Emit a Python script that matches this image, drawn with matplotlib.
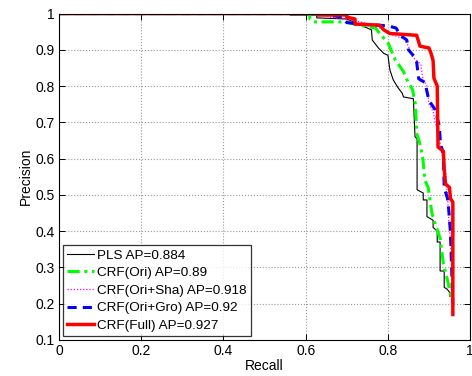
import matplotlib
matplotlib.use("Agg")
import matplotlib.pyplot as plt

plt.rcParams['font.family'] = ['Liberation Sans', 'DejaVu Sans']

pls_r = [0, 0.562, 0.562, 0.627, 0.627, 0.70, 0.72, 0.76, 0.762, 0.777, 0.79, 0.80, 0.805, 0.813, 0.825, 0.835, 0.838, 0.862, 0.866, 0.871, 0.871, 0.886, 0.886, 0.895, 0.895, 0.91, 0.91, 0.92, 0.92, 0.927, 0.927, 0.937, 0.937, 0.944, 0.951, 0.951]
pls_p = [1, 1, 0.996, 0.996, 0.988, 0.985, 0.975, 0.955, 0.927, 0.905, 0.89, 0.885, 0.844, 0.817, 0.795, 0.78, 0.77, 0.765, 0.66, 0.655, 0.514, 0.505, 0.486, 0.486, 0.44, 0.43, 0.41, 0.40, 0.37, 0.37, 0.29, 0.29, 0.245, 0.24, 0.23, 0.22]

ori_r = [0, 0.61, 0.61, 0.62, 0.70, 0.72, 0.77, 0.78, 0.80, 0.818, 0.838, 0.845, 0.86, 0.865, 0.867, 0.87, 0.878, 0.885, 0.89, 0.898, 0.907, 0.915, 0.927, 0.935, 0.946, 0.953]
ori_p = [1, 1, 0.985, 0.977, 0.977, 0.97, 0.96, 0.945, 0.92, 0.872, 0.84, 0.82, 0.79, 0.76, 0.75, 0.67, 0.64, 0.60, 0.54, 0.52, 0.45, 0.42, 0.38, 0.31, 0.26, 0.22]

sha_r = [0, 0.64, 0.66, 0.72, 0.76, 0.79, 0.80, 0.84, 0.85, 0.86, 0.88, 0.885, 0.895, 0.90, 0.91, 0.915, 0.925, 0.93, 0.94, 0.945, 0.948, 0.952, 0.955, 0.958]
sha_p = [1, 1, 0.99, 0.98, 0.97, 0.955, 0.945, 0.93, 0.91, 0.88, 0.86, 0.82, 0.80, 0.75, 0.73, 0.70, 0.66, 0.62, 0.57, 0.50, 0.43, 0.38, 0.30, 0.20]

gro_r = [0, 0.65, 0.65, 0.69, 0.70, 0.74, 0.80, 0.82, 0.83, 0.846, 0.85, 0.865, 0.87, 0.875, 0.89, 0.90, 0.915, 0.925, 0.928, 0.935, 0.937, 0.945, 0.948, 0.952, 0.955, 0.958]
gro_p = [1, 1, 0.997, 0.99, 0.975, 0.97, 0.966, 0.96, 0.94, 0.927, 0.90, 0.88, 0.866, 0.82, 0.81, 0.76, 0.735, 0.69, 0.64, 0.615, 0.52, 0.49, 0.46, 0.40, 0.30, 0.20]

full_r = [0, 0.63, 0.63, 0.70, 0.70, 0.72, 0.72, 0.78, 0.79, 0.805, 0.87, 0.878, 0.90, 0.905, 0.91, 0.912, 0.92, 0.922, 0.935, 0.937, 0.94, 0.95, 0.952, 0.958, 0.958]
full_p = [1, 1, 0.996, 0.996, 0.99, 0.985, 0.971, 0.968, 0.955, 0.945, 0.94, 0.91, 0.905, 0.89, 0.87, 0.822, 0.80, 0.632, 0.62, 0.57, 0.53, 0.52, 0.49, 0.48, 0.17]

labels = ['PLS AP=0.884', 'CRF(Ori) AP=0.89', 'CRF(Ori+Sha) AP=0.918',
          'CRF(Ori+Gro) AP=0.92', 'CRF(Full) AP=0.927']

fig = plt.figure(figsize=(4.72, 3.76), dpi=100)
ax = fig.add_axes([0.125, 0.096, 0.871, 0.868])

ax.plot(pls_r, pls_p, color='black', lw=0.8, label=labels[0])
ax.plot(ori_r, ori_p, color='#00ff00', lw=2.2, ls=(0, (4, 1.5, 1, 1.5)), label=labels[1])
ax.plot(sha_r, sha_p, color='#ff00ff', lw=0.9, ls=(0, (1, 1.5)), label=labels[2])
ax.plot(gro_r, gro_p, color='#0000ff', lw=2.2, ls=(0, (3, 2)), label=labels[3])
ax.plot(full_r, full_p, color='#ff0000', lw=2.5, label=labels[4])

ax.set_xlim(0, 1)
ax.set_ylim(0.1, 1)
ax.set_xticks([0, 0.2, 0.4, 0.6, 0.8, 1])
ax.set_xticklabels(['0', '0.2', '0.4', '0.6', '0.8', '1'])
ax.set_yticks([0.1, 0.2, 0.3, 0.4, 0.5, 0.6, 0.7, 0.8, 0.9, 1])
ax.set_yticklabels(['0.1', '0.2', '0.3', '0.4', '0.5', '0.6', '0.7', '0.8', '0.9', '1'])
ax.tick_params(direction='in', top=True, right=True, labelsize=10, length=4, width=0.7, pad=3)
ax.grid(True, ls=':', color='#999999', lw=0.8)
for s in ax.spines.values():
    s.set_linewidth(0.8)
ax.set_xlabel('Recall', fontsize=10, labelpad=1)
ax.set_ylabel('Precision', fontsize=10, labelpad=2)

leg = ax.legend(loc='lower left', fontsize=9.7, frameon=True, fancybox=False,
                edgecolor='black', handlelength=2.0, handletextpad=0.25,
                borderpad=0.3, labelspacing=0.38, borderaxespad=0.3)
leg.get_frame().set_linewidth(0.9)

fig.savefig('out.png', dpi=100)
